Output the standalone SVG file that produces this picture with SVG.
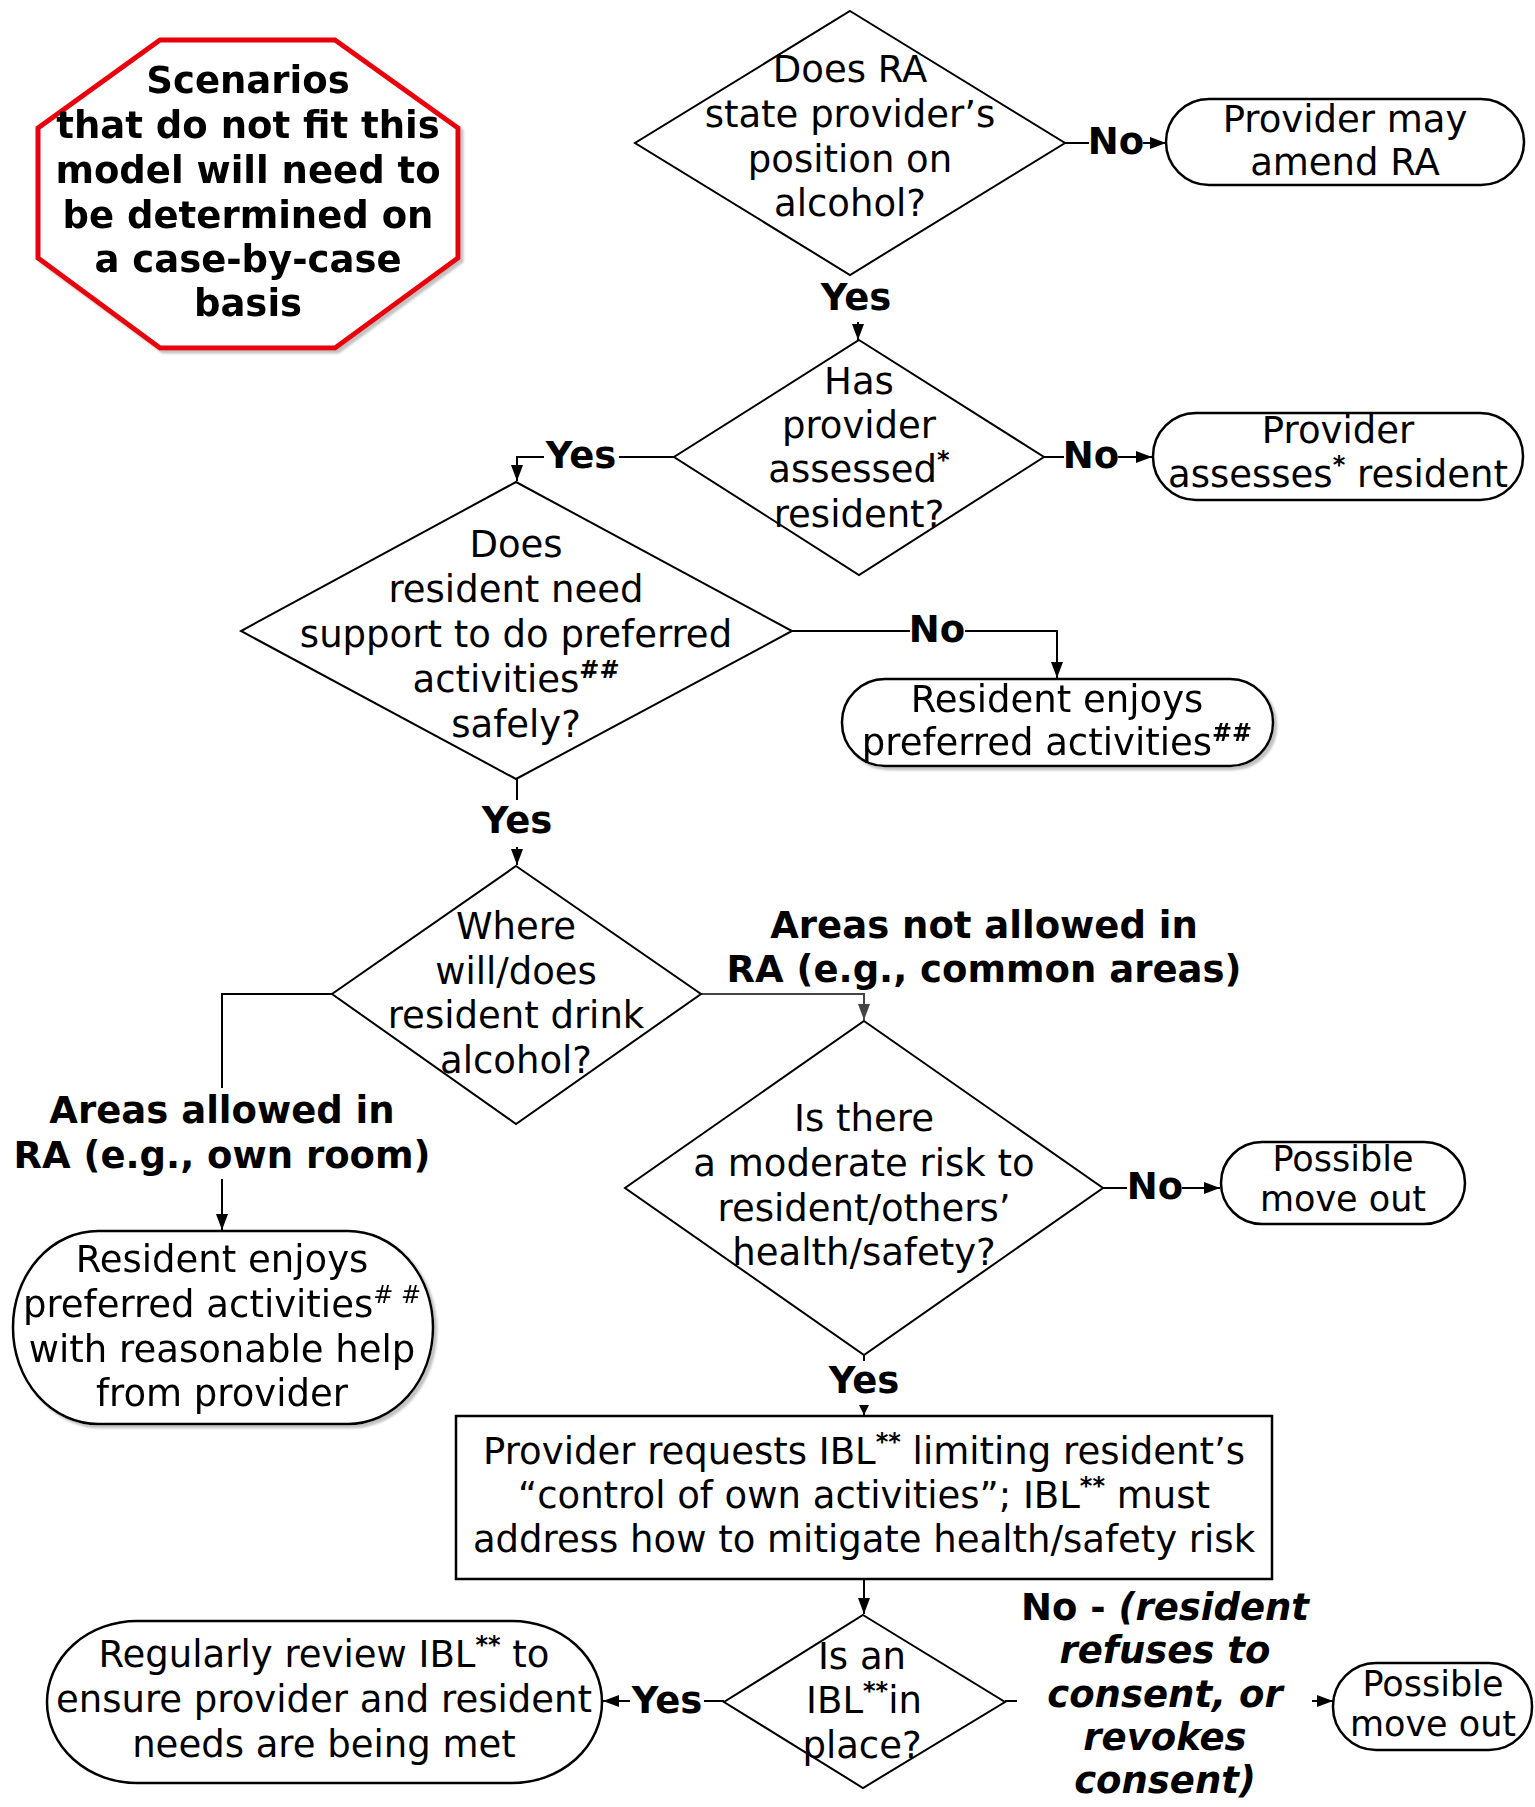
<svg xmlns="http://www.w3.org/2000/svg" width="1535" height="1807" viewBox="0 0 1535 1807">
<style>
text { font-family: "DejaVu Sans", "Verdana", sans-serif; font-size: 37px; fill: #000; text-anchor: middle; }
.b { font-weight: bold; }
.bi { font-weight: bold; font-style: italic; }
.sup { font-size: 24px; font-weight: bold; }
.supn { font-size: 24px; }
.sm { font-size: 35px; }
.dia { fill: #fff; stroke: #000; stroke-width: 2; }
.term { fill: #fff; stroke: #000; stroke-width: 2.5; }
.conn { fill: none; stroke: #000; stroke-width: 2; }
.gray { stroke: #444; }
</style>
<defs>
<marker id="arr" viewBox="0 0 16 12" refX="16" refY="6" markerWidth="16" markerHeight="12" markerUnits="userSpaceOnUse" orient="auto">
<path d="M0,0 L16,6 L0,12 Z" fill="#000"/>
</marker>
<marker id="arrg" viewBox="0 0 16 12" refX="16" refY="6" markerWidth="16" markerHeight="12" markerUnits="userSpaceOnUse" orient="auto">
<path d="M0,0 L16,6 L0,12 Z" fill="#444"/>
</marker>
<marker id="arrs" viewBox="0 0 10 10" refX="10" refY="5" markerWidth="10" markerHeight="10" markerUnits="userSpaceOnUse" orient="auto">
<path d="M0,0 L10,5 L0,10 Z" fill="#000"/>
</marker>
<filter id="ds" x="-10%" y="-10%" width="130%" height="130%">
<feDropShadow dx="3" dy="3" stdDeviation="1" flood-color="#999" flood-opacity="0.6"/>
</filter>
</defs>

<g id="note-octagon" filter="url(#ds)">
<polygon points="160,40 335,40 458,128 458,258 335,348 160,348 38,258 38,128" fill="#fff" stroke="#e8000b" stroke-width="5"/>
<text class="b" x="248" y="93">Scenarios</text>
<text class="b" x="248" y="138">that do not fit this</text>
<text class="b" x="248" y="183">model will need to</text>
<text class="b" x="248" y="228">be determined on</text>
<text class="b" x="248" y="272">a case-by-case</text>
<text class="b" x="248" y="316">basis</text>
</g>

<g id="connectors">
<line class="conn" x1="1065" y1="143" x2="1089" y2="143"/>
<line class="conn" x1="1143" y1="143" x2="1166" y2="143" marker-end="url(#arr)"/>
<text class="b" x="1116" y="154">No</text>
<text class="b" x="856" y="310">Yes</text>
<line class="conn" x1="858" y1="322" x2="858" y2="340" marker-end="url(#arr)"/>
<line class="conn" x1="1044" y1="457" x2="1064" y2="457"/>
<line class="conn" x1="1118" y1="457" x2="1152" y2="457" marker-end="url(#arr)"/>
<text class="b" x="1091" y="468">No</text>
<line class="conn" x1="674" y1="457" x2="619" y2="457"/>
<polyline class="conn" points="544,457 517,457 517,481" marker-end="url(#arr)"/>
<text class="b" x="581" y="468">Yes</text>
<line class="conn" x1="792" y1="631" x2="910" y2="631"/>
<polyline class="conn" points="965,631 1057,631 1057,678" marker-end="url(#arr)"/>
<text class="b" x="937" y="642">No</text>
<line class="conn" x1="517" y1="779" x2="517" y2="800"/>
<text class="b" x="517" y="833">Yes</text>
<line class="conn" x1="517" y1="847" x2="517" y2="865" marker-end="url(#arr)"/>
<polyline class="conn" points="332,994 222,994 222,1088"/>
<text class="b" x="222" y="1123">Areas allowed in</text>
<text class="b" x="222" y="1168">RA (e.g., own room)</text>
<line class="conn" x1="222" y1="1179" x2="222" y2="1230" marker-end="url(#arr)"/>
<polyline class="conn gray" points="701,994 864,994 864,1020" marker-end="url(#arrg)"/>
<text class="b" x="984" y="938">Areas not allowed in</text>
<text class="b" x="984" y="982">RA (e.g., common areas)</text>
<line class="conn" x1="1103" y1="1188" x2="1127" y2="1188"/>
<line class="conn" x1="1182" y1="1188" x2="1220" y2="1188" marker-end="url(#arr)"/>
<text class="b" x="1155" y="1199">No</text>
<line class="conn" x1="864" y1="1355" x2="864" y2="1361"/>
<text class="b" x="864" y="1393">Yes</text>
<line class="conn" x1="864" y1="1405" x2="864" y2="1415" marker-end="url(#arrs)"/>
<line class="conn" x1="864" y1="1579" x2="864" y2="1614" marker-end="url(#arr)"/>
<line class="conn" x1="724" y1="1701" x2="704" y2="1701"/>
<line class="conn" x1="630" y1="1701" x2="603" y2="1701" marker-end="url(#arr)"/>
<text class="b" x="667" y="1713">Yes</text>
<line class="conn" x1="1005" y1="1701" x2="1017" y2="1701"/>
<line class="conn" x1="1312" y1="1701" x2="1333" y2="1701" marker-end="url(#arr)"/>
<text class="b" x="1165" y="1620">No - <tspan class="bi">(resident</tspan></text>
<text class="bi" x="1165" y="1663">refuses to</text>
<text class="bi" x="1165" y="1707">consent, or</text>
<text class="bi" x="1165" y="1750">revokes</text>
<text class="bi" x="1165" y="1793">consent)</text>
</g>

<g id="d1-ra-position">
<polygon class="dia" points="850,11 1065,143 850,275 635,143"/>
<text x="850" y="82">Does RA</text>
<text x="850" y="127">state provider’s</text>
<text x="850" y="172">position on</text>
<text x="850" y="216">alcohol?</text>
</g>

<g id="r1-amend-ra">
<rect class="term" x="1166" y="99" width="358" height="86" rx="43" ry="43"/>
<text x="1345" y="132">Provider may</text>
<text x="1345" y="175">amend RA</text>
</g>

<g id="d2-assessed">
<polygon class="dia" points="859,340 1044,457 859,575 674,457"/>
<text x="859" y="394">Has</text>
<text x="859" y="438">provider</text>
<text x="859" y="482">assessed<tspan class="sup" dy="-14">*</tspan></text>
<text x="859" y="527">resident?</text>
</g>

<g id="r2-assesses">
<rect class="term" x="1153" y="413" width="370" height="87" rx="43" ry="43"/>
<text x="1338" y="443">Provider</text>
<text x="1338" y="487">assesses<tspan class="sup" dy="-14">*</tspan><tspan dy="14"> resident</tspan></text>
</g>

<g id="d3-support">
<polygon class="dia" points="516,482 792,631 516,779 241,631"/>
<text x="516" y="557">Does</text>
<text x="516" y="602">resident need</text>
<text x="516" y="647">support to do preferred</text>
<text x="516" y="692">activities<tspan class="sup" dy="-14">##</tspan></text>
<text x="516" y="737">safely?</text>
</g>

<g id="r3-enjoys" filter="url(#ds)">
<rect class="term" x="842" y="679" width="431" height="87" rx="43" ry="43"/>
<text x="1057" y="712">Resident enjoys</text>
<text x="1057" y="755">preferred activities<tspan class="sup" dy="-14">##</tspan></text>
</g>

<g id="d4-where">
<polygon class="dia" points="516,866 701,994 516,1124 332,994"/>
<text x="516" y="939">Where</text>
<text x="516" y="984">will/does</text>
<text x="516" y="1028">resident drink</text>
<text x="516" y="1073">alcohol?</text>
</g>

<g id="r4-enjoys-help" filter="url(#ds)">
<rect class="term" x="13" y="1231" width="420" height="193" rx="85" ry="96"/>
<text x="222" y="1272">Resident enjoys</text>
<text x="222" y="1317">preferred activities<tspan class="supn" dy="-14"># #</tspan></text>
<text x="222" y="1362">with reasonable help</text>
<text x="222" y="1406">from provider</text>
</g>

<g id="d5-risk">
<polygon class="dia" points="864,1021 1103,1188 864,1355 625,1188"/>
<text x="864" y="1131">Is there</text>
<text x="864" y="1176">a moderate risk to</text>
<text x="864" y="1221">resident/others’</text>
<text x="864" y="1265">health/safety?</text>
</g>

<g id="r5-move-out">
<rect class="term" x="1221" y="1142" width="244" height="82" rx="41" ry="41"/>
<text class="sm" x="1343" y="1171">Possible</text>
<text class="sm" x="1343" y="1211">move out</text>
</g>

<g id="box-request-ibl">
<rect x="456" y="1416" width="816" height="163" fill="#fff" stroke="#000" stroke-width="2.5"/>
<text x="864" y="1464">Provider requests IBL<tspan class="sup" dy="-14">**</tspan><tspan dy="14"> limiting resident’s</tspan></text>
<text x="864" y="1508">“control of own activities”; IBL<tspan class="sup" dy="-14">**</tspan><tspan dy="14"> must</tspan></text>
<text x="864" y="1552">address how to mitigate health/safety risk</text>
</g>

<g id="d6-ibl-in-place">
<polygon class="dia" points="863,1615 1005,1702 863,1788 724,1702"/>
<text x="862" y="1669">Is an</text>
<text x="864" y="1713">IBL<tspan class="sup" dy="-14">**</tspan><tspan dy="14">in</tspan></text>
<text x="862" y="1758">place?</text>
</g>

<g id="r6-review">
<rect class="term" x="47" y="1621" width="555" height="162" rx="90" ry="81"/>
<text x="324" y="1667">Regularly review IBL<tspan class="sup" dy="-14">**</tspan><tspan dy="14"> to</tspan></text>
<text x="324" y="1712">ensure provider and resident</text>
<text x="324" y="1757">needs are being met</text>
</g>

<g id="r7-move-out">
<rect class="term" x="1333" y="1663" width="199" height="87" rx="43" ry="43"/>
<text class="sm" x="1433" y="1696">Possible</text>
<text class="sm" x="1433" y="1736">move out</text>
</g>
</svg>
